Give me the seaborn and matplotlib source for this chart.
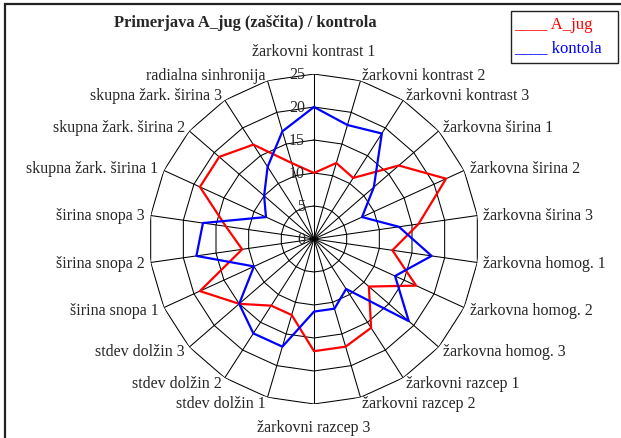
import numpy as np
import pandas as pd
import seaborn as sns
import matplotlib.pyplot as plt
from matplotlib.patches import Rectangle

# categories clockwise from the top
categories = [
    "žarkovni kontrast 1", "žarkovni kontrast 2", "žarkovni kontrast 3",
    "žarkovna širina 1", "žarkovna širina 2", "žarkovna širina 3",
    "žarkovna homog. 1", "žarkovna homog. 2", "žarkovna homog. 3",
    "žarkovni razcep 1", "žarkovni razcep 2", "žarkovni razcep 3",
    "stdev dolžin 1", "stdev dolžin 2", "stdev dolžin 3",
    "širina snopa 1", "širina snopa 2", "širina snopa 3",
    "skupna žark. širina 1", "skupna žark. širina 2", "skupna žark. širina 3",
    "radialna sinhronija",
]
a_jug = [10, 12, 11, 17, 22, 16, 12, 17, 11, 16, 17, 17,
         12, 12, 15, 19, 11, 13.5, 19, 19, 17, 12]
kontola = [20, 18, 19, 12, 8, 13, 18, 13.5, 19, 9, 11, 11,
           17, 17, 15, 10, 18, 17, 8, 10, 13, 17]
r_ticks = [0, 5, 10, 15, 20, 25]
series_names = ["A_jug", "kontola"]
series_colors = ["#ff0000", "#0000ff"]

sns.set_style("white")
plt.rcParams["font.family"] = ["Liberation Serif", "DejaVu Serif"]

n = len(categories)
angles = np.arange(n) * 2 * np.pi / n
closed = np.append(angles, 2 * np.pi)

rows = []
for name, vals in zip(series_names, [a_jug, kontola]):
    for ang, v in zip(closed, vals + vals[:1]):
        rows.append({"angle": ang, "value": v, "series": name})
df = pd.DataFrame(rows)

W, H = 621, 439
fig = plt.figure(figsize=(W / 100, H / 100), dpi=100)
cx, cy, R = 314, 240, 165
ax = fig.add_axes([(cx - R) / W, (H - cy - R) / H, 2 * R / W, 2 * R / H], projection="polar")
ax.set_theta_zero_location("N")
ax.set_theta_direction(-1)
ax.set_ylim(0, 25)
ax.grid(False)
ax.set_xticks([])
ax.set_yticks([])
ax.spines["polar"].set_visible(False)
ax.patch.set_alpha(0)

# polygon grid and spokes
for lev in r_ticks[1:]:
    ax.plot(closed, [lev] * len(closed), color="black", lw=0.75, zorder=1)
for ang in angles:
    ax.plot([ang, ang], [0, 25], color="black", lw=0.75, zorder=1)

sns.lineplot(data=df, x="angle", y="value", hue="series", palette=dict(zip(series_names, series_colors)),
             sort=False, estimator=None, linewidth=1.6, legend=False, ax=ax, zorder=3)
ax.set_xlabel("")
ax.set_ylabel("")

for t in r_ticks:
    ax.annotate(str(t), (0, t), xytext=(-9, 0), textcoords="offset pixels",
                ha="right", va="center", fontsize=11.5, zorder=4)

for ang, lab in zip(angles, categories):
    s, c = np.sin(ang), np.cos(ang)
    if abs(s) < 0.05:
        ha = "center"
        dx, dy = 0, 23 * np.sign(c)
    else:
        ha = "left" if s > 0 else "right"
        dx, dy = 6 * s, 6 * c
    ax.annotate(lab, (ang, 25), xytext=(dx, dy), textcoords="offset pixels",
                ha=ha, va="center", fontsize=11.5, annotation_clip=False)

fig.text(245 / W, 1 - 23 / H, "Primerjava A_jug (zaščita) / kontrola", ha="center", va="center",
         fontsize=11.9, fontweight="bold")

# chart area border
fig.patches.append(Rectangle((5 / W, -0.1), 1.2, 1.1 - 5 / H, transform=fig.transFigure,
                             fill=False, edgecolor="#222222", lw=1.6))
# legend box
fig.patches.append(Rectangle((511 / W, 1 - 64 / H), 107 / W, 52 / H, transform=fig.transFigure,
                             fill=False, edgecolor="#222222", lw=1.0))
fig.text(514 / W, 1 - 25 / H, "____ A_jug", color=series_colors[0], fontsize=12, va="center")
fig.text(514 / W, 1 - 48 / H, "____ kontola", color=series_colors[1], fontsize=12, va="center")

fig.savefig("out.png", dpi=100)
